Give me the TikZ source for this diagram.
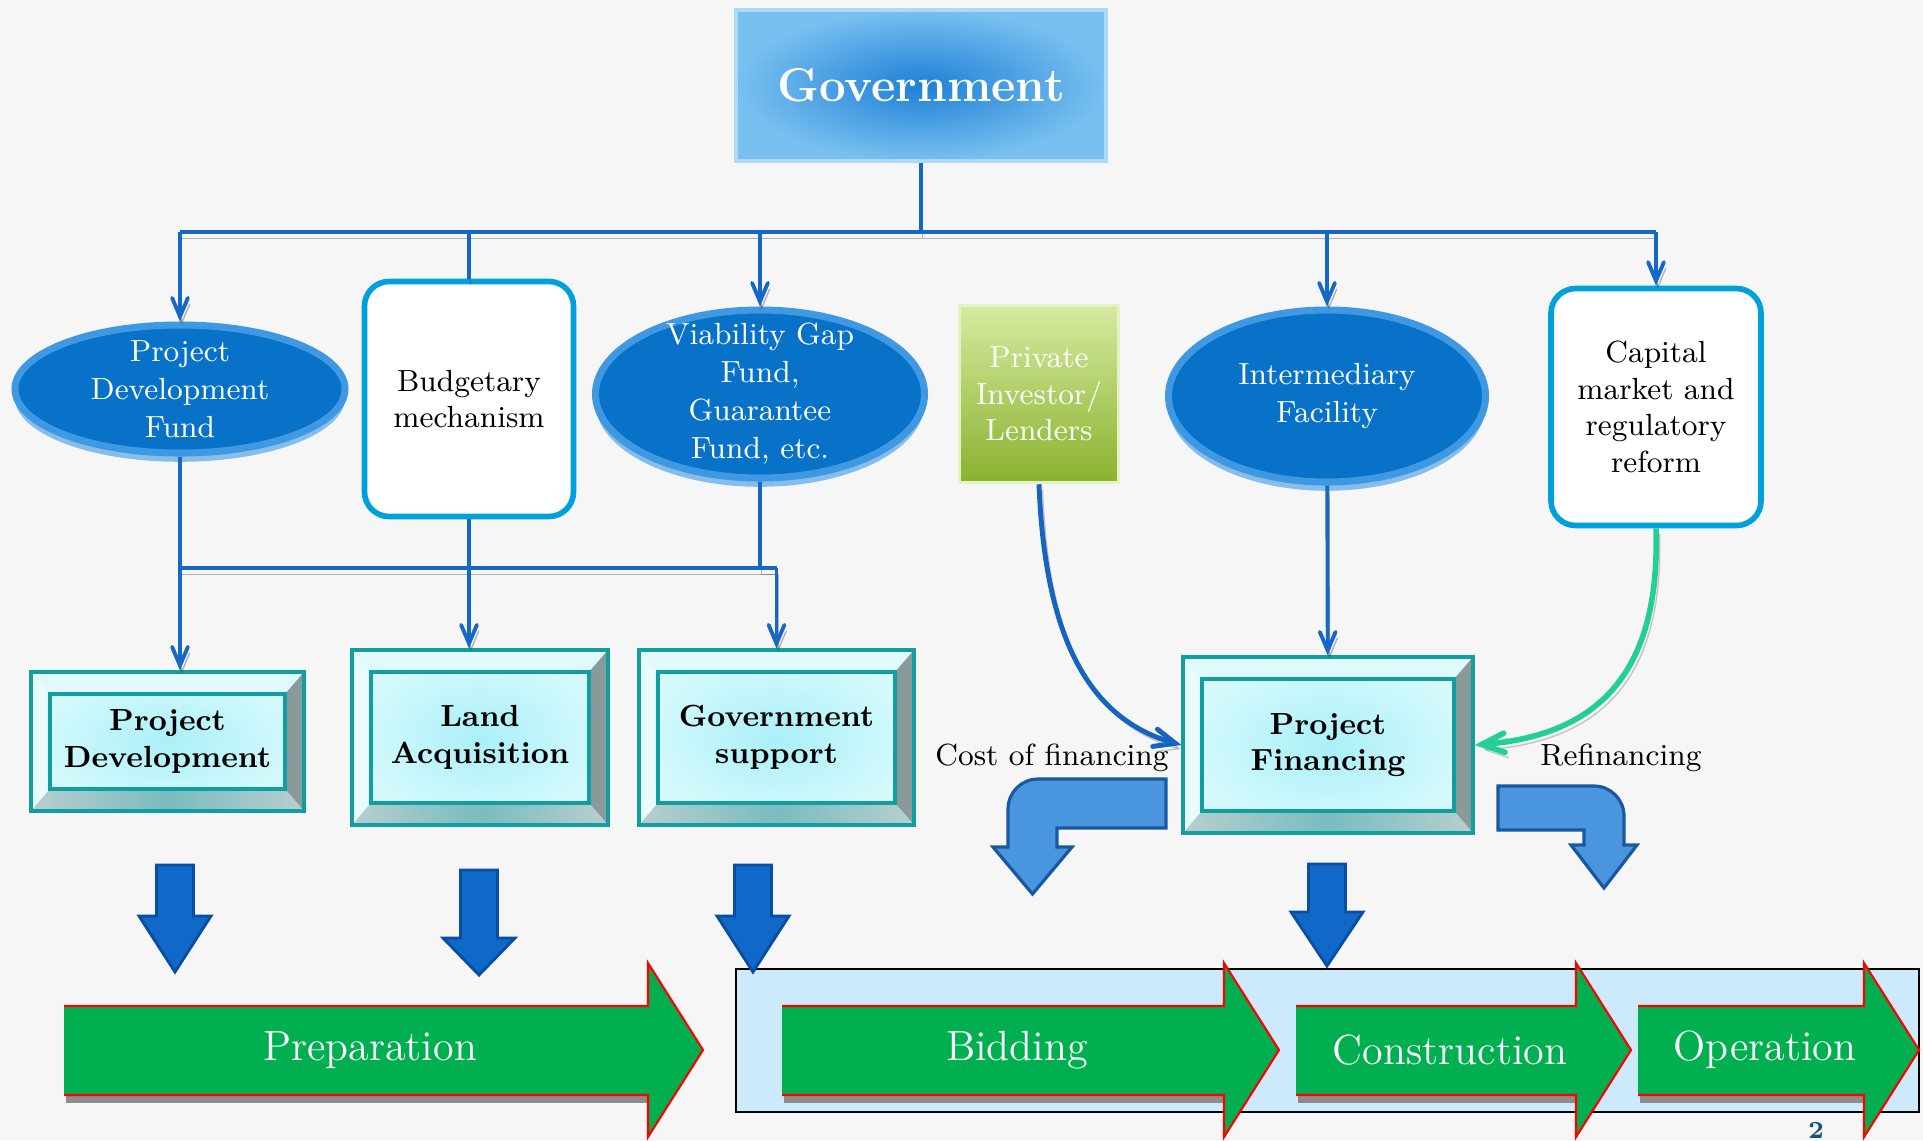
\documentclass[tikz,border=0pt]{standalone}
\usepackage{tikz}
\usetikzlibrary{shapes,arrows,calc,shadows}

\definecolor{bggray}{RGB}{246,246,246}
\definecolor{linkblue}{RGB}{22,104,200}
\definecolor{govlight}{RGB}{120,192,240}
\definecolor{govdark}{RGB}{30,128,214}
\definecolor{fundblue}{RGB}{8,114,200}
\definecolor{fundrim}{RGB}{62,152,226}
\definecolor{boxrim}{RGB}{0,160,220}
\definecolor{pilight}{RGB}{214,234,160}
\definecolor{pidark}{RGB}{138,178,46}
\definecolor{bevteal}{RGB}{16,158,160}
\definecolor{bevface}{RGB}{214,250,252}
\definecolor{bevcyan}{RGB}{170,240,248}
\definecolor{bevtop}{RGB}{224,250,252}
\definecolor{bevleft}{RGB}{232,252,253}
\definecolor{bevright}{RGB}{136,154,154}
\definecolor{bevbot}{RGB}{122,188,192}
\definecolor{bevbotlight}{RGB}{184,206,206}
\definecolor{costblue}{RGB}{20,100,192}
\definecolor{refgreen}{RGB}{34,208,150}
\definecolor{bendfill}{RGB}{74,150,222}
\definecolor{bendedge}{RGB}{24,88,160}
\definecolor{downfill}{RGB}{16,104,200}
\definecolor{downedge}{RGB}{10,78,160}
\definecolor{stagegreen}{RGB}{0,176,80}
\definecolor{bandblue}{RGB}{204,234,252}
\definecolor{pagenum}{RGB}{24,84,116}

\newcommand{\bodyfont}{\fontsize{8.7}{10.4}\selectfont}
\newcommand{\bigdown}[4]{\filldraw[blockdown] ({#1-0.185},#2) -- ({#1+0.185},#2) -- ({#1+0.185},#3) -- ({#1+0.36},#3) -- (#1,#4) -- ({#1-0.36},#3) -- ({#1-0.185},#3) -- cycle;}
\newcommand{\stage}[3]{%
  \fill[black!45] ({#1+0.02},-10.95) rectangle (#2,-11.03);
  \filldraw[stagearrow] (#1,-10.95) -- (#2,-10.95) -- (#2,-11.37) -- (#3,-10.50) -- (#2,-9.63) -- (#2,-10.06) -- (#1,-10.06);}

\begin{document}
\begin{tikzpicture}[node distance=1cm, auto, >=angle 45,
  link/.style={draw=linkblue, line width=1.1pt,
    preaction={draw=black!70, opacity=.4, transform canvas={shift={(0.5pt,-1.8pt)}}}},
  costlink/.style={draw=costblue, line width=1.4pt,
    preaction={draw=black!60, opacity=.35, transform canvas={shift={(1pt,-1.5pt)}}}},
  refilink/.style={draw=refgreen, line width=1.6pt,
    preaction={draw=black!60, opacity=.35, transform canvas={shift={(1pt,-1.5pt)}}}},
  govbox/.style={rectangle, inner color=govdark, outer color=govlight, draw=govlight!60!white, line width=1pt,
    minimum width=3.70cm, minimum height=1.51cm, text=white, font=\fontsize{13.5}{15}\selectfont\bfseries},
  fund/.style={ellipse, fill=fundblue, draw=fundrim, line width=2pt, inner sep=0pt,
    drop shadow={shadow xshift=0pt, shadow yshift=-2.5pt, fill=fundrim, opacity=.6}},
  fundtext/.style={text=white, font=\fontsize{8.7}{10.8}\selectfont, align=center},
  roundbox/.style={rectangle, rounded corners=7pt, draw=boxrim, line width=1.6pt, fill=white,
    font=\bodyfont, align=center},
  pibox/.style={rectangle, top color=pilight, bottom color=pidark, draw=pilight!60!white, line width=1pt,
    text=white, font=\bodyfont, align=center},
  bevelbox/.style={rectangle, draw=bevteal, line width=0.9pt, inner color=bevcyan, outer color=bevface,
    font=\bodyfont\bfseries, align=center,
    path picture={
      \coordinate (bNW) at (path picture bounding box.north west);
      \coordinate (bNE) at (path picture bounding box.north east);
      \coordinate (bSW) at (path picture bounding box.south west);
      \coordinate (bSE) at (path picture bounding box.south east);
      \coordinate (iNW) at ($(bNW)+(0.19,-0.22)$);
      \coordinate (iNE) at ($(bNE)+(-0.19,-0.22)$);
      \coordinate (iSW) at ($(bSW)+(0.19,0.22)$);
      \coordinate (iSE) at ($(bSE)+(-0.19,0.22)$);
      \fill[bevtop] (bNW) -- (bNE) -- (iNE) -- (iNW) -- cycle;
      \fill[bevleft] (bNW) -- (iNW) -- (iSW) -- (bSW) -- cycle;
      \fill[bevright] (bNE) -- (bSE) -- (iSE) -- (iNE) -- cycle;
      \shade[left color=bevbotlight, right color=bevbotlight, middle color=bevbot] (bSW) -- (iSW) -- (iSE) -- (bSE) -- cycle;
      \draw[bevteal, line width=0.9pt] (iNW) rectangle (iSE);
    }},
  note/.style={font=\bodyfont, text=black, anchor=center},
  bentarrow/.style={fill=bendfill, draw=bendedge, line width=0.9pt},
  blockdown/.style={fill=downfill, draw=downedge, line width=0.8pt},
  band/.style={fill=bandblue, draw=black, line width=0.8pt},
  stagearrow/.style={fill=stagegreen, draw=red, line width=0.6pt},
  stagetext/.style={text=white, font=\fontsize{12}{14}\selectfont, anchor=center, inner sep=0pt},
  pagenum/.style={text=pagenum, font=\fontsize{7}{8}\selectfont\bfseries, anchor=center}]

\useasboundingbox (0,0) rectangle (19.23,-11.40);
\fill[bggray] (0,0) rectangle (19.23,-11.40);

% top level
\node[govbox] (gov) at (9.21,-0.855) {Government};

\node[fund, minimum width=3.30cm, minimum height=1.28cm,
  label={[fundtext]center:Project\\Development\\Fund}] (pdf) at (1.80,-3.89) {};
\node[roundbox, minimum width=2.09cm, minimum height=2.35cm] (bud) at (4.69,-3.99) {Budgetary\\mechanism};
\node[fund, minimum width=3.29cm, minimum height=1.68cm,
  label={[fundtext]center:Viability Gap\\Fund,\\Guarantee\\Fund, etc.}] (vgf) at (7.60,-3.94) {};
\node[pibox, minimum width=1.59cm, minimum height=1.77cm] (pi) at (10.39,-3.94) {Private\\Investor/\\Lenders};
\node[fund, minimum width=3.17cm, minimum height=1.72cm,
  label={[fundtext]center:Intermediary\\Facility}] (imf) at (13.27,-3.96) {};
\node[roundbox, minimum width=2.10cm, minimum height=2.37cm] (cap) at (16.56,-4.07) {Capital\\market and\\regulatory\\reform};

% bus from government
\coordinate (bus) at (9.21,-2.32);
\draw[link] (gov) -- (bus);
\draw[link] (pdf |- bus) -- (cap |- bus);
\draw[link,->] (pdf |- bus) -- (pdf);
\draw[link] (bud |- bus) -- (bud);
\draw[link,->] (vgf |- bus) -- (vgf);
\draw[link,->] (imf |- bus) -- (imf);
\draw[link,->] (cap |- bus) -- (cap);

% second level
\node[bevelbox, minimum width=2.73cm, minimum height=1.39cm] (pd) at (1.675,-7.415) {Project\\Development};
\node[bevelbox, minimum width=2.56cm, minimum height=1.75cm] (la) at (4.80,-7.375) {Land\\Acquisition};
\node[bevelbox, minimum width=2.75cm, minimum height=1.75cm] (gs) at (7.765,-7.375) {Government\\support};
\node[bevelbox, minimum width=2.90cm, minimum height=1.76cm] (pf) at (13.28,-7.45) {Project\\Financing};

\coordinate (lbus) at (4.64,-5.68);
\draw[link] (pdf) -- (pdf |- lbus) -- (gs |- lbus);
\draw[link] (vgf) |- (gs |- lbus);
\draw[link,->] (pdf |- lbus) -- (pdf |- pd.north);
\draw[link,->] (gs |- lbus) -- (gs);
\draw[link,->] (bud) -- (bud |- la.north);
\draw[link,->] (imf) -- (pf);

\draw[costlink,->] (pi.south) .. controls (10.45,-6.40) and (10.90,-7.20) .. (pf.west);
\draw[refilink,->] (cap.south) .. controls (16.60,-6.60) and (16.10,-7.35) .. (pf.east);

\node[note, left of=pf, node distance=2.76cm, yshift=-3.7pt] (cost) {Cost of financing};
\node[note, right of=pf, node distance=2.93cm, yshift=-3.7pt] (refi) {Refinancing};

% bent arrows
\filldraw[bentarrow] (11.66,-7.79) -- (10.38,-7.79) arc (90:180:0.30) -- (10.08,-8.47) -- (9.93,-8.47)
  -- (10.325,-8.94) -- (10.72,-8.47) -- (10.57,-8.47) -- (10.57,-8.28) -- (11.66,-8.28) -- cycle;
\filldraw[bentarrow] (14.98,-7.86) -- (15.94,-7.86) arc (90:0:0.30) -- (16.24,-8.45) -- (16.37,-8.45)
  -- (16.04,-8.88) -- (15.71,-8.45) -- (15.84,-8.45) -- (15.84,-8.30) -- (14.98,-8.30) -- cycle;

% stages
\filldraw[band] (7.36,-9.69) rectangle (19.19,-11.12);
\bigdown{1.75}{-8.65}{-9.16}{-9.72}
\bigdown{4.79}{-8.70}{-9.38}{-9.75}
\bigdown{7.53}{-8.65}{-9.16}{-9.72}
\bigdown{13.27}{-8.64}{-9.12}{-9.66}

\stage{0.64}{6.48}{7.03}
\stage{7.82}{12.24}{12.79}
\stage{12.96}{15.76}{16.31}
\stage{16.38}{18.64}{19.19}

\node[stagetext] (prep) at (3.70,-10.50) {Preparation};
\node[stagetext] (bid) at (10.17,-10.50) {Bidding};
\node[stagetext] (cons) at (14.50,-10.50) {Construction};
\node[stagetext] (oper) at (17.65,-10.50) {Operation};

\node[pagenum] (page) at (18.16,-11.30) {2};
\end{tikzpicture}
\end{document}
